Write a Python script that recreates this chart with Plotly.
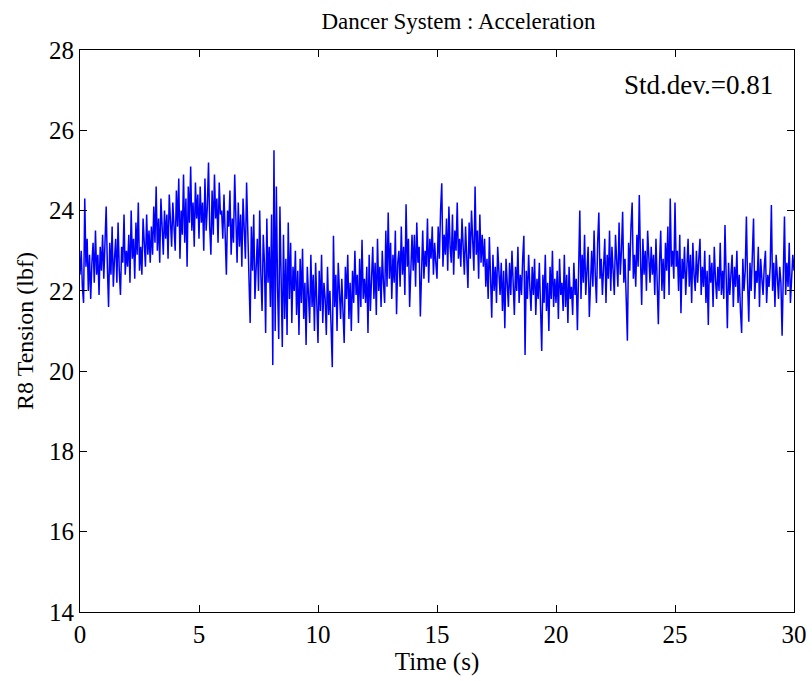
import plotly.graph_objects as go

title_text = "Dancer System : Acceleration"
x_label = "Time (s)"
y_label = "R8 Tension (lbf)"
std_text = "Std.dev.=0.81"
x_ticks = [0, 5, 10, 15, 20, 25, 30]
y_ticks = [14, 16, 18, 20, 22, 24, 26, 28]
time_step = 0.05  # seconds between samples

# R8 tension (lbf), one row per second
tension = [
    22.4, 23.0, 22.1, 21.7, 24.3, 22.6, 23.3, 22.0, 22.9, 21.8, 22.7, 23.2, 22.2, 23.5, 22.4, 22.9, 21.9, 23.1, 22.5, 23.4,
    22.3, 23.0, 24.1, 22.6, 21.6, 23.2, 22.4, 23.6, 22.1, 22.8, 23.3, 22.2, 23.7, 22.5, 21.9, 23.1, 22.7, 23.9, 22.4, 23.0,
    22.6, 23.4, 22.2, 24.0, 22.8, 23.3, 22.3, 23.7, 22.9, 24.2, 22.5, 23.1, 22.4, 23.8, 23.0, 22.6, 23.9, 22.9, 23.5, 22.7,
    23.6, 22.9, 24.1, 23.2, 24.6, 23.0, 23.8, 22.7, 24.3, 23.4, 22.9, 24.0, 23.3, 23.9, 22.8, 24.4, 23.5, 23.1, 24.2, 23.6,
    23.0, 24.5, 23.6, 24.8, 22.8, 24.0, 23.4, 24.9, 23.2, 24.3, 22.6, 24.6, 23.7, 25.1, 23.5, 24.2, 23.1, 24.7, 23.8, 24.4,
    23.3, 24.6, 23.7, 24.2, 23.0, 24.8, 23.5, 24.1, 25.2, 23.6, 22.9, 24.5, 23.4, 24.9, 23.8, 24.3, 23.2, 24.7, 23.9, 24.0,
    23.3, 24.4, 23.0, 22.4, 24.0, 23.6, 24.5, 22.9, 23.8, 23.2, 24.9, 23.5, 22.7, 24.2, 23.1, 23.9, 22.6, 24.3, 23.4, 22.8,
    24.7, 23.0, 22.3, 21.2, 23.6, 22.5, 23.9, 21.8, 22.8, 23.3, 22.0, 24.0, 22.4, 21.5, 23.4, 22.7, 20.95, 23.8, 22.2, 23.1,
    21.6, 23.9, 20.15, 25.5, 21.0, 24.6, 22.1, 20.8, 24.1, 22.5, 20.6, 23.4, 21.3, 22.8, 20.9, 23.7, 21.8, 23.2, 21.2, 22.6,
    22.0, 23.0, 21.4, 22.5, 20.9, 22.8, 21.7, 23.05, 21.3, 22.2, 20.65, 22.6, 21.9, 21.2, 22.9, 21.6, 22.4, 21.0, 22.7, 21.8,
    20.7, 22.5, 21.5, 22.9, 21.2, 22.2, 21.8, 20.9, 22.6, 21.4, 22.0, 21.1, 20.1, 23.37, 21.6, 22.4, 21.0, 22.7, 21.9, 21.3,
    22.3, 21.5, 20.7, 22.6, 21.8, 22.9, 21.3, 22.2, 21.0, 22.5, 21.7, 23.0, 21.9, 22.4, 21.2, 22.8, 21.6, 23.27, 21.8, 22.3,
    21.7, 22.6, 20.95, 22.9, 21.5, 22.3, 23.1, 21.8, 22.7, 21.4, 23.3, 22.0, 22.6, 21.6, 23.0, 22.2, 21.7, 23.5, 22.1, 23.95,
    22.3, 23.2, 21.8, 22.9, 22.2, 23.5, 21.42, 22.7, 23.0, 22.1, 23.6, 22.4, 23.1, 21.9, 24.16, 22.6, 23.3, 21.6, 22.8, 23.4,
    22.5, 23.4, 22.1, 23.7, 22.7, 23.1, 21.36, 22.9, 23.5, 22.3, 23.0, 22.6, 23.8, 22.2, 23.3, 22.8, 23.6, 22.4, 23.2, 22.7,
    22.3, 23.6, 22.8, 24.0, 24.68, 22.6, 23.4, 22.9, 23.8, 22.5, 24.1, 23.1, 22.7, 23.9, 22.4, 23.5, 23.0, 24.2, 22.8, 23.3,
    22.6, 23.8, 23.1, 22.4, 23.6, 22.9, 22.07, 23.7, 22.8, 24.0, 23.2, 22.5, 24.6, 22.9, 23.5, 22.3, 23.9, 22.7, 23.4, 22.6,
    23.3, 22.1, 22.8, 21.8, 23.34, 22.4, 21.33, 22.9, 22.0, 22.6, 21.7, 23.1, 22.3, 21.9, 22.7, 21.5, 22.5, 21.07, 22.8, 22.2,
    21.6, 22.7, 21.9, 23.0, 22.3, 21.4, 22.6, 22.0, 23.1, 21.7, 22.4, 21.9, 22.8, 23.37, 20.4, 22.5, 21.8, 22.9, 22.1, 21.5,
    22.6, 21.9, 22.8, 21.4, 22.3, 21.8, 22.7, 21.2, 20.5, 22.4, 21.7, 22.9, 21.5, 22.2, 21.0, 22.6, 21.8, 23.0, 21.6, 22.3,
    21.7, 22.5, 21.3, 22.8, 21.9, 22.2, 21.5, 22.9, 21.6, 22.4, 21.2, 22.6, 21.8, 22.1, 21.4, 22.7, 21.9, 22.3, 21.02, 22.5,
    24.0, 21.8, 22.9, 22.2, 23.4, 21.9, 22.7, 23.1, 21.35, 22.5, 23.0, 22.1, 23.5, 22.4, 21.7, 23.2, 23.95, 22.3, 22.8, 21.9,
    22.7, 23.3, 21.7, 22.9, 22.3, 23.5, 22.0, 23.1, 22.5, 21.9, 23.4, 22.6, 22.1, 23.7, 22.4, 23.0, 23.97, 22.2, 22.8, 21.8,
    20.76, 23.2, 22.5, 23.6, 24.2, 22.3, 22.9, 22.1, 23.4, 22.6, 24.39, 22.8, 21.65, 23.3, 22.4, 23.0, 22.0, 23.5, 22.7, 22.2,
    23.1, 22.4, 22.9, 21.9, 23.3, 22.2, 21.17, 22.7, 23.5, 22.0, 22.8, 21.8, 23.2, 22.5, 23.6, 21.9, 24.3, 22.6, 23.0, 22.3,
    24.2, 22.6, 23.0, 22.0, 23.4, 21.44, 22.8, 22.3, 23.1, 21.9, 22.7, 23.3, 22.1, 22.9, 21.7, 23.2, 22.4, 22.0, 23.0, 22.2,
    22.8, 23.3, 21.9, 22.6, 22.1, 23.0, 21.7, 22.5, 21.15, 22.9, 22.2, 22.7, 21.6, 23.1, 22.3, 21.8, 22.6, 22.0, 23.2, 21.9,
    22.5, 21.8, 23.64, 22.3, 21.07, 22.7, 21.9, 22.4, 22.9, 21.6, 22.6, 22.1, 23.0, 21.7, 22.4, 21.5, 20.95, 22.8, 22.0, 22.5,
    23.85, 22.2, 21.23, 22.7, 22.0, 22.9, 23.8, 21.8, 22.5, 22.2, 23.1, 21.6, 22.8, 22.3, 21.9, 22.6, 23.0, 21.7, 22.4, 22.1,
    22.6, 24.14, 22.0, 22.7, 21.6, 22.9, 22.3, 21.8, 22.6, 22.2, 20.88, 22.5, 23.85, 21.9, 22.7, 22.1, 23.2, 21.7, 22.4, 22.9,
    22.5,
]
time_s = [round(i * time_step, 4) for i in range(len(tension))]

font_family = "Liberation Serif"

fig = go.Figure()
fig.add_trace(go.Scatter(
    x=time_s, y=tension, mode="lines",
    line=dict(color="#0000FF", width=1.5),
    showlegend=False,
))

axis_common = dict(
    showgrid=False, zeroline=False, automargin=False,
    showline=True, linecolor="black", linewidth=1, mirror="allticks",
    ticks="inside", ticklen=7, tickcolor="black", tickwidth=1,
    tickfont=dict(family=font_family, size=25, color="black"),
)

fig.update_layout(
    width=812, height=681,
    margin=dict(l=80, r=18, t=50, b=69),
    paper_bgcolor="white", plot_bgcolor="white",
    font=dict(family=font_family, size=25, color="black"),
    title=dict(text=title_text, x=0.53, xref="paper", xanchor="center",
               y=1 - 21 / 681, yanchor="middle",
               font=dict(family=font_family, size=23, color="black")),
    xaxis=dict(range=[0, 30], tickvals=x_ticks,
               title=dict(text=x_label, standoff=0,
                          font=dict(family=font_family, size=25)),
               **axis_common),
    yaxis=dict(range=[14, 28], tickvals=y_ticks,
               title=dict(text=y_label, standoff=8,
                          font=dict(family=font_family, size=24)),
               **axis_common),
    annotations=[dict(
        text=std_text, xref="paper", yref="paper",
        x=0.974, y=0.938, xanchor="right", yanchor="middle",
        showarrow=False, font=dict(family=font_family, size=27, color="black"),
    )],
)

fig.write_html("out.html")
